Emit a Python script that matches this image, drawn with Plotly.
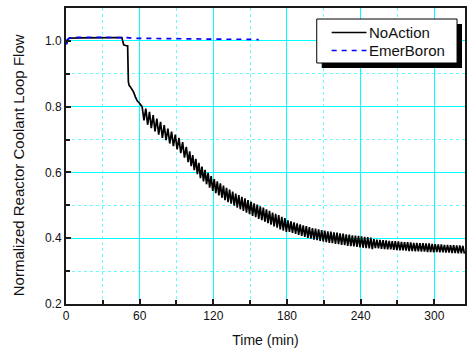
import numpy as np
import plotly.graph_objects as go

# ---------------- data ----------------
# NoAction: steady state, trip and initial coastdown (min, normalized flow)
t_pre = [0, 0.6, 1.2, 2.5, 10, 20, 30, 40, 45.5, 47, 48.5, 50.2, 50.8, 51.5, 52.5,
         53.5, 55, 56.5, 58, 59.5, 61]
v_pre = [1.0, 0.992, 1.003, 1.008, 1.009, 1.01, 1.01, 1.01, 1.01, 0.988, 0.986, 0.985,
         0.875, 0.864, 0.86, 0.855, 0.845, 0.83, 0.818, 0.812, 0.806]

# NoAction: oscillating part, early (sampled every 1.5 min from 62 min)
v_osc_a = [0.800, 0.758, 0.794, 0.745, 0.784, 0.735, 0.774, 0.725, 0.764, 0.715,
           0.754, 0.705, 0.744, 0.698, 0.733, 0.688, 0.724, 0.680, 0.715, 0.670,
           0.705, 0.659, 0.692, 0.645, 0.678, 0.631]
t_osc_a = np.round(np.arange(62, 100, 1.5), 2)

# NoAction: oscillating part, late (sampled every 1.25 min from 100.75 min)
v_osc_b = [
    0.664, 0.619, 0.653, 0.607, 0.641, 0.595, 0.629, 0.583,   # 100-110
    0.618, 0.573, 0.608, 0.564, 0.599, 0.554, 0.589, 0.544,   # 110-120
    0.580, 0.537, 0.573, 0.530, 0.567, 0.523, 0.560, 0.516,   # 120-130
    0.553, 0.510, 0.548, 0.505, 0.542, 0.499, 0.536, 0.493,   # 130-140
    0.531, 0.488, 0.526, 0.483, 0.521, 0.478, 0.516, 0.473,   # 140-150
    0.511, 0.468, 0.506, 0.464, 0.502, 0.459, 0.497, 0.455,   # 150-160
    0.493, 0.450, 0.488, 0.446, 0.483, 0.441, 0.478, 0.436,   # 160-170
    0.474, 0.432, 0.470, 0.427, 0.465, 0.423, 0.461, 0.419,   # 170-180
    0.454, 0.419, 0.451, 0.416, 0.448, 0.413, 0.445, 0.410,   # 180-190
    0.442, 0.407, 0.439, 0.404, 0.437, 0.401, 0.434, 0.399,   # 190-200
    0.431, 0.396, 0.429, 0.394, 0.427, 0.392, 0.425, 0.390,   # 200-210
    0.423, 0.388, 0.421, 0.386, 0.420, 0.385, 0.418, 0.383,   # 210-220
    0.417, 0.382, 0.415, 0.380, 0.414, 0.379, 0.412, 0.377,   # 220-230
    0.411, 0.376, 0.409, 0.375, 0.408, 0.374, 0.407, 0.372,   # 230-240
    0.406, 0.371, 0.404, 0.370, 0.403, 0.369, 0.402, 0.367,   # 240-250
    0.397, 0.370, 0.396, 0.369, 0.395, 0.368, 0.394, 0.367,   # 250-260
    0.393, 0.366, 0.392, 0.366, 0.391, 0.365, 0.391, 0.364,   # 260-270
    0.390, 0.363, 0.389, 0.363, 0.388, 0.362, 0.388, 0.361,   # 270-280
    0.387, 0.361, 0.386, 0.360, 0.386, 0.360, 0.385, 0.359,   # 280-290
    0.385, 0.359, 0.384, 0.358, 0.384, 0.358, 0.383, 0.357,   # 290-300
    0.382, 0.358, 0.381, 0.357, 0.381, 0.357, 0.380, 0.356,   # 300-310
    0.380, 0.356, 0.379, 0.355, 0.379, 0.355, 0.378, 0.354,   # 310-320
    0.378, 0.354, 0.377, 0.353,                               # 320-325
]
t_osc_b = np.round(np.arange(100.75, 325, 1.25), 2)

# EmerBoron
t_boron = [0, 0.7, 1.4, 3, 10, 20, 30, 40, 50, 55, 70, 90, 110, 130, 145, 157]
v_boron = [1.004, 0.988, 1.004, 1.009, 1.011, 1.011, 1.011, 1.011, 1.010, 1.008,
           1.007, 1.006, 1.006, 1.005, 1.005, 1.004]

series_names = ["NoAction", "EmerBoron"]
x_ticks = [0, 60, 120, 180, 240, 300]
y_ticks = [0.2, 0.4, 0.6, 0.8, 1.0]

t_noaction = list(t_pre) + list(t_osc_a) + list(t_osc_b)
v_noaction = list(v_pre) + list(v_osc_a) + list(v_osc_b)

FONT = "Arial, Liberation Sans, sans-serif"
BLACK = "black"
BLUE = "#0000ff"
BLUE_DASH = "5px,5px"

fig = go.Figure()
fig.add_trace(go.Scatter(x=t_noaction, y=v_noaction, mode="lines", name=series_names[0],
                         line=dict(color=BLACK, width=1.7)))
fig.add_trace(go.Scatter(x=t_boron, y=v_boron, mode="lines", name=series_names[1],
                         line=dict(color=BLUE, width=1.7, dash=BLUE_DASH)))

axis_common = dict(
    showline=True, linecolor="#1a1a1a", linewidth=2, mirror=True,
    ticks="inside", ticklen=5, tickcolor="#1a1a1a", tickwidth=1.5,
    showgrid=True, gridcolor="#00ffff", gridwidth=1.2,
    zeroline=False,
    tickfont=dict(family=FONT, size=12, color="#111"),
)

fig.update_xaxes(
    range=[0, 325], tickvals=x_ticks,
    minor=dict(dtick=30, tick0=0, ticks="inside", ticklen=4, tickcolor="#1a1a1a",
               showgrid=True, gridcolor="#66ffff", griddash="dot", gridwidth=1),
    title=dict(text="Time (min)", font=dict(family=FONT, size=14, color="#111"), standoff=13),
    **axis_common,
)
fig.update_yaxes(
    range=[0.2, 1.1], tickvals=y_ticks, tickformat=".1f",
    minor=dict(dtick=0.1, tick0=0.2, ticks="inside", ticklen=4, tickcolor="#1a1a1a",
               showgrid=True, gridcolor="#66ffff", griddash="dot", gridwidth=1),
    **axis_common,
)

# ---- helpers to place decorations by pixel position inside the 469x353 frame ----
L, R, T, B = 66, 2, 8, 49
PW, PH = 469 - L - R, 353 - T - B


def px(x):
    return (x - L) / PW


def py(y):
    return (353 - B - y) / PH


# y-axis title (placed slightly below centre, as in the original)
fig.add_annotation(text="Normalized Reactor Coolant Loop Flow", textangle=-90,
                   xref="paper", yref="paper", x=px(18), y=py(165),
                   xanchor="center", yanchor="middle", showarrow=False,
                   font=dict(family=FONT, size=15, color="#111"))

# legend box with drop shadow
fig.add_shape(type="rect", xref="paper", yref="paper",
              x0=px(323), x1=px(464), y0=py(68), y1=py(24),
              fillcolor="black", line=dict(width=0), layer="above")
fig.add_shape(type="rect", xref="paper", yref="paper",
              x0=px(318), x1=px(459), y0=py(63), y1=py(19),
              fillcolor="white", line=dict(color="black", width=1), layer="above")
legend_rows = [(series_names[0], BLACK, "solid", 32.5),
               (series_names[1], BLUE, BLUE_DASH, 50.5)]
for name, col, dash, yy in legend_rows:
    fig.add_shape(type="line", xref="paper", yref="paper",
                  x0=px(333), x1=px(368), y0=py(yy), y1=py(yy),
                  line=dict(color=col, width=1.7, dash=dash), layer="above")
    fig.add_annotation(text=name, xref="paper", yref="paper", x=px(369), y=py(yy),
                       xanchor="left", yanchor="middle", showarrow=False,
                       font=dict(family=FONT, size=15, color="#111"))

fig.update_layout(
    width=469, height=353,
    margin=dict(l=L, r=R, t=T, b=B),
    paper_bgcolor="white", plot_bgcolor="white",
    font=dict(family=FONT, size=12, color="#111"),
    showlegend=False,
)

fig.write_html("out.html")
